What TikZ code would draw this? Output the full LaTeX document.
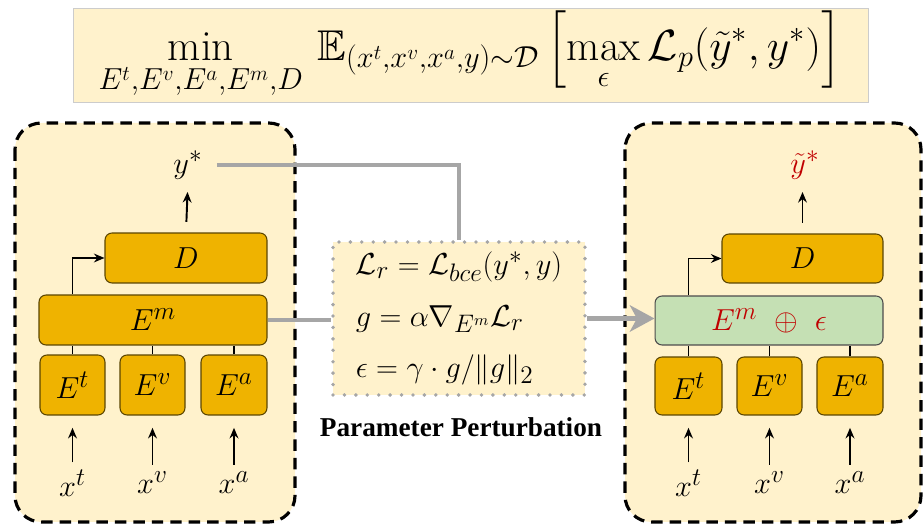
\documentclass[tikz,border=0pt]{standalone}
\usepackage{amsmath,amssymb}
\usepackage{fontspec}
\newfontfamily\timesfont{Liberation Serif}
\usetikzlibrary{arrows.meta}
\definecolor{paleyellow}{HTML}{FFF2CC}
\definecolor{gold}{HTML}{EFB300}
\definecolor{boxedge}{HTML}{5A4500}
\definecolor{mint}{HTML}{C5E0B4}
\definecolor{darkred}{HTML}{C00000}
\definecolor{linegray}{HTML}{A6A6A6}
\tikzset{
  encbox/.style={draw=boxedge, fill=gold, rounded corners=4pt, line width=0.6pt, inner sep=0pt, font=\fontsize{19}{22}\selectfont},
  fusebox/.style={encbox, fill=mint, draw=black!70},
  lbl/.style={inner sep=0pt, font=\fontsize{19}{22}\selectfont},
  arr/.style={line width=1.1pt, -{Stealth[length=6pt,width=5pt]}},
  link/.style={line width=1.1pt},
  grayline/.style={draw=linegray, line width=2.8pt},
  dashbox/.style={draw=black, fill=paleyellow, line width=1.8pt, dash pattern=on 6.5pt off 4pt, rounded corners=15pt}
}
\begin{document}
\begin{tikzpicture}[x=0.02cm, y=-0.02cm]
    \useasboundingbox (0,0) rectangle (923,526);
    % objective
    \fill[paleyellow, draw=black!20] (73,8) rectangle (868,102);
    \node[inner sep=0pt, font=\fontsize{24.5}{28}\selectfont] (obj) at (470,55) {$\displaystyle\min_{E^t,E^v,E^a,E^m,D}\,\mathbb{E}_{(x^t,x^v,x^a,y)\sim\mathcal{D}}\left[\max_{\epsilon}\mathcal{L}_p(\tilde{y}^*,y^*)\right]$};

    % standard model
    \draw[dashbox] (15,123) rectangle (295,522);
    \node[encbox, minimum width=1.3cm, minimum height=1.2cm] (et) at (72.5,385) {$E^t$};
    \node[encbox, minimum width=1.3cm, minimum height=1.2cm] (ev) at (152.5,385) {$E^v$};
    \node[encbox, minimum width=1.32cm, minimum height=1.2cm] (ea) at (234,385) {$E^a$};
    \node[encbox, minimum width=4.56cm, minimum height=1cm] (em) at (153,320) {$E^m$};
    \node[encbox, minimum width=3.24cm, minimum height=1cm] (d) at (186,258) {$D$};
    \node[lbl] (ystar) at (188,165) {$y^*$};
    \node[lbl] (xt) at (72.5,483) {$x^t$}; \node[lbl] (xv) at (152.5,483) {$x^v$}; \node[lbl] (xa) at (234,483) {$x^a$};
    \foreach \e in {t,v,a} {
        \draw[link] (e\e.north) -- (e\e.north |- em.south);
        \draw[arr, shorten <=4pt, shorten >=7pt] (x\e.north) -- (e\e.south);
    }
    \draw[arr] (em.north -| et.north) |- (d.west);
    \draw[arr, shorten <=6pt, shorten >=7pt] (d.north) -- (ystar.south);

    % perturbation
    \node[draw=linegray, fill=paleyellow, line width=2.2pt, dash pattern=on 0pt off 6.5pt, line cap=round, minimum width=5.04cm, minimum height=3.06cm, align=left, font=\fontsize{19}{21.5}\selectfont] (pert) at (459,318.5) {$\mathcal{L}_r=\mathcal{L}_{bce}(y^*,y)$\\[8pt]$g=\alpha\nabla_{E^m}\mathcal{L}_r$\\[8pt]$\epsilon=\gamma\cdot g/\|g\|_2$};
    \node[font=\timesfont\bfseries\fontsize{15.5}{18}\selectfont] (pertlbl) at (461,427) {Parameter Perturbation};
    \draw[grayline] (ystar.east) ++(8pt,0) -| (pert.north);
    \draw[grayline] (em.east) -- (em.east -| pert.west);

    % perturbed model
    \draw[dashbox] (625,123) rectangle (921,522);
    \node[encbox, minimum width=1.34cm, minimum height=1.16cm] (et2) at (688.5,386) {$E^t$};
    \node[encbox, minimum width=1.3cm, minimum height=1.16cm] (ev2) at (769.5,386) {$E^v$};
    \node[encbox, minimum width=1.32cm, minimum height=1.16cm] (ea2) at (850,386) {$E^a$};
    \node[fusebox, minimum width=4.56cm, minimum height=0.98cm, text=darkred] (em2) at (769,320.5) {$E^m\ \oplus\ \epsilon$};
    \node[encbox, minimum width=3.22cm, minimum height=0.98cm] (d2) at (802.5,258.5) {$D$};
    \node[lbl, text=darkred] (ytil) at (805,165) {$\tilde{y}^*$};
    \node[lbl] (xt2) at (688.5,483) {$x^t$}; \node[lbl] (xv2) at (769.5,483) {$x^v$}; \node[lbl] (xa2) at (850,483) {$x^a$};
    \foreach \e in {t,v,a} {
        \draw[link] (e\e2.north) -- (e\e2.north |- em2.south);
        \draw[arr, shorten <=4pt, shorten >=7pt] (x\e2.north) -- (e\e2.south);
    }
    \draw[arr] (em2.north -| et2.north) |- (d2.west);
    \draw[arr, shorten <=6pt, shorten >=7pt] (d2.north) -- (d2.north |- ytil.south);

    \draw[grayline, -{Stealth[length=14pt,width=15pt,inset=4pt]}] (pert.east) -- (pert.east -| em2.west);
\end{tikzpicture}
\end{document}
